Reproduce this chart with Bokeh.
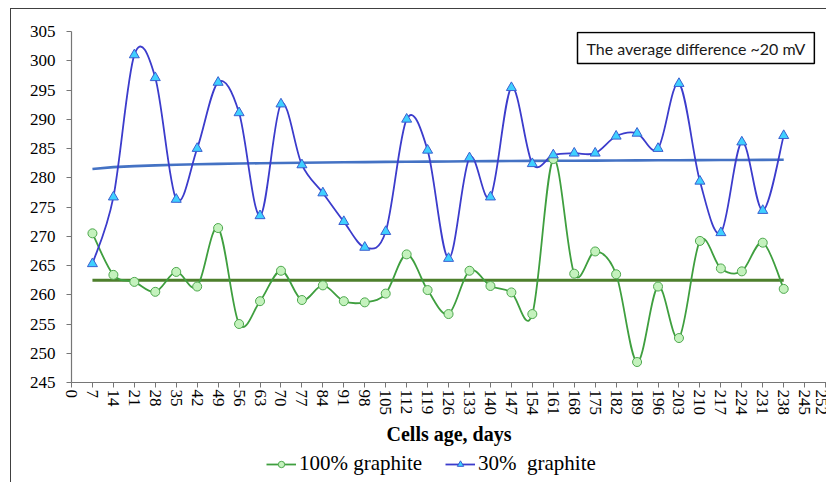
import numpy as np
from bokeh.plotting import figure
from bokeh.layouts import column
from bokeh.models import (Range1d, SingleIntervalTicker, Legend, LegendItem,
                          Label, ColumnDataSource)
from bokeh.embed import file_html
from bokeh.resources import INLINE

# Cell age (days) and measured values (mV) for both electrode compositions
days = [7, 14, 21, 28, 35, 42, 49, 56, 63, 70, 77, 84, 91, 98, 105, 112, 119,
        126, 133, 140, 147, 154, 161, 168, 175, 182, 189, 196, 203, 210, 217,
        224, 231, 238]
graphite_100 = [270.5, 263.4, 262.2, 260.5, 263.9, 261.4, 271.4, 255.0, 258.9,
                264.1, 259.1, 261.6, 258.9, 258.7, 260.2, 266.9, 260.8, 256.7,
                264.1, 261.5, 260.4, 256.7, 283.2, 263.6, 267.4, 263.5, 248.5,
                261.4, 252.6, 269.2, 264.5, 264.0, 268.9, 261.0]
graphite_30 = [265.3, 276.7, 301.0, 297.1, 276.3, 285.0, 296.3, 291.1, 273.5,
               292.6, 282.2, 277.4, 272.5, 268.1, 270.8, 290.0, 284.7, 266.2,
               283.4, 276.7, 295.4, 282.4, 283.9, 284.2, 284.2, 287.1, 287.6,
               285.0, 296.1, 279.4, 270.6, 286.1, 274.4, 287.2]
series_labels = ["100% graphite", "30%  graphite"]
note_text = "The average difference ~20 mV"
x_title = "Cells age, days"

SERIF = "Liberation Serif"
GREEN_LINE, GREEN_FILL, GREEN_EDGE = "#3f9f3f", "#c4f2bd", "#4ea84e"
BLUE_LINE, BLUE_FILL, BLUE_EDGE = "#3c3ccc", "#3fd0ff", "#3a5fd0"


def smooth_segments(xs, ys, k=1.0 / 6.0):
    """Cubic Bezier segments (Catmull-Rom style) passing through every point."""
    n = len(xs)
    seg = {key: [] for key in ("x0", "y0", "x1", "y1", "cx0", "cy0", "cx1", "cy1")}
    for i in range(n - 1):
        pxm, pym = (xs[i - 1], ys[i - 1]) if i > 0 else (xs[i], ys[i])
        pxp, pyp = (xs[i + 2], ys[i + 2]) if i + 2 < n else (xs[i + 1], ys[i + 1])
        seg["x0"].append(xs[i]); seg["y0"].append(ys[i])
        seg["x1"].append(xs[i + 1]); seg["y1"].append(ys[i + 1])
        seg["cx0"].append(xs[i] + (xs[i + 1] - pxm) * k)
        seg["cy0"].append(ys[i] + (ys[i + 1] - pym) * k)
        seg["cx1"].append(xs[i + 1] - (pxp - xs[i]) * k)
        seg["cy1"].append(ys[i + 1] - (pyp - ys[i]) * k)
    return ColumnDataSource(seg)


def log_trend(xs, ys):
    b, a = np.polyfit(np.log(xs), ys, 1)
    return list(a + b * np.log(np.asarray(xs, dtype=float)))


def mean_trend(xs, ys):
    return [float(np.mean(ys))] * len(xs)


# ---- main chart ----
p = figure(width=815, height=441,
           x_range=Range1d(0, 252.3), y_range=Range1d(245, 305),
           output_backend="svg", toolbar_location=None,
           min_border_left=60, min_border_right=0, min_border_top=22,
           min_border_bottom=68)
p.background_fill_color = "white"
p.border_fill_color = "white"
p.outline_line_color = None
p.xgrid.visible = False
p.ygrid.visible = False

p.axis.axis_line_color = "#767676"
p.axis.axis_line_width = 1.2
p.axis.major_tick_line_color = "#767676"
p.axis.major_tick_in = 0
p.axis.major_tick_out = 5
p.axis.minor_tick_line_color = None
p.axis.major_label_text_font = SERIF
p.axis.major_label_text_font_size = "17px"
p.axis.major_label_text_color = "black"

p.xaxis.ticker = SingleIntervalTicker(interval=7)
p.xaxis.major_label_orientation = "vertical"
p.xaxis.major_label_standoff = 2
p.xaxis.axis_label = x_title
p.xaxis.axis_label_text_font = SERIF
p.xaxis.axis_label_text_font_style = "bold"
p.xaxis.axis_label_text_font_size = "20px"
p.xaxis.axis_label_text_color = "black"
p.xaxis.axis_label_standoff = 5

p.yaxis.ticker = SingleIntervalTicker(interval=5)
p.yaxis.major_label_standoff = 11

# trend lines
p.line(days, mean_trend(days, graphite_100), line_color="#4e7f2c", line_width=3)
p.line(days, log_trend(days, graphite_30), line_color="#4472c4", line_width=2.6)

# smoothed series
p.bezier(x0="x0", y0="y0", x1="x1", y1="y1", cx0="cx0", cy0="cy0", cx1="cx1",
         cy1="cy1", source=smooth_segments(days, graphite_100),
         line_color=GREEN_LINE, line_width=1.8)
p.bezier(x0="x0", y0="y0", x1="x1", y1="y1", cx0="cx0", cy0="cy0", cx1="cx1",
         cy1="cy1", source=smooth_segments(days, graphite_30),
         line_color=BLUE_LINE, line_width=1.8)

p.scatter(days, graphite_100, marker="circle", size=9,
          fill_color=GREEN_FILL, line_color=GREEN_EDGE, line_width=1)
p.scatter(days, graphite_30, marker="triangle", size=10,
          fill_color=BLUE_FILL, line_color=BLUE_EDGE, line_width=1)

# annotation box
p.add_layout(Label(x=506, y=350, x_units="screen", y_units="screen",
                   anchor="top_left", text=note_text, text_font="Lato",
                   text_font_size="16px", text_color="#1a1a1a",
                   border_line_color="black", border_line_width=1.5,
                   background_fill_color="white", padding=(9, 6)))

# ---- legend strip under the chart ----
# The strip's ranges leave the series outside its frame, so only the legend shows.
leg = figure(width=815, height=32, x_range=Range1d(0, 1), y_range=Range1d(0, 1),
             x_axis_type=None, y_axis_type=None, output_backend="svg",
             toolbar_location=None, min_border=0)
leg.background_fill_color = "white"
leg.border_fill_color = "white"
leg.outline_line_color = None

g_key = leg.line(days, graphite_100, line_color=GREEN_LINE, line_width=1.8)
g_mark = leg.scatter(days, graphite_100, marker="circle", size=9,
                     fill_color=GREEN_FILL, line_color=GREEN_EDGE, line_width=1)
b_key = leg.line(days, graphite_30, line_color=BLUE_LINE, line_width=1.8)
b_mark = leg.scatter(days, graphite_30, marker="triangle", size=10,
                     fill_color=BLUE_FILL, line_color=BLUE_EDGE, line_width=1)

legend = Legend(items=[LegendItem(label=series_labels[0], renderers=[g_key, g_mark]),
                       LegendItem(label=series_labels[1], renderers=[b_key, b_mark])],
                orientation="horizontal", location=(195, 6),
                glyph_width=30, glyph_height=16, label_standoff=3, spacing=23,
                padding=0, margin=0, border_line_color=None,
                background_fill_alpha=0,
                label_text_font=SERIF, label_text_font_size="21px",
                label_text_color="black")
leg.add_layout(legend, "center")

# chart-area border on the top and left sides
layout = column(p, leg, styles={"margin-left": "10px", "margin-top": "8px",
                                "border-left": "1.5px solid #404040",
                                "border-top": "1.5px solid #404040"})

open("out.html", "w").write(file_html(layout, INLINE))
